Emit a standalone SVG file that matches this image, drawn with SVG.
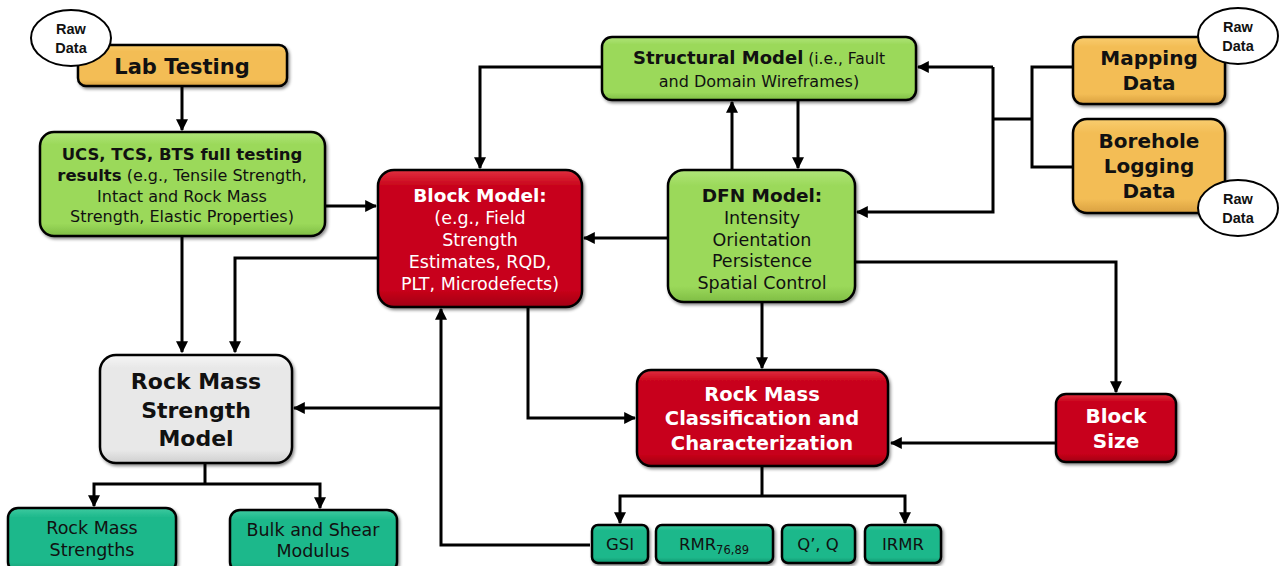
<svg xmlns="http://www.w3.org/2000/svg" width="1279" height="566" viewBox="0 0 1279 566">
<defs>
<linearGradient id="gOr" x1="0" y1="0" x2="0" y2="1"><stop offset="0" stop-color="#f9cd6f"/><stop offset="0.15" stop-color="#f3bd55"/><stop offset="0.85" stop-color="#f3bd55"/><stop offset="1" stop-color="#d9a040"/></linearGradient>
<linearGradient id="gGr" x1="0" y1="0" x2="0" y2="1"><stop offset="0" stop-color="#b0e57a"/><stop offset="0.12" stop-color="#9bd95a"/><stop offset="0.88" stop-color="#9bd95a"/><stop offset="1" stop-color="#7fbd45"/></linearGradient>
<linearGradient id="gRd" x1="0" y1="0" x2="0" y2="1"><stop offset="0" stop-color="#e0303f"/><stop offset="0.12" stop-color="#c8021a"/><stop offset="0.88" stop-color="#c8021a"/><stop offset="1" stop-color="#a00012"/></linearGradient>
<linearGradient id="gGy" x1="0" y1="0" x2="0" y2="1"><stop offset="0" stop-color="#f6f6f6"/><stop offset="0.12" stop-color="#e8e8e8"/><stop offset="0.88" stop-color="#e8e8e8"/><stop offset="1" stop-color="#cfcfcf"/></linearGradient>
<linearGradient id="gTl" x1="0" y1="0" x2="0" y2="1"><stop offset="0" stop-color="#3fcaa0"/><stop offset="0.15" stop-color="#1db88b"/><stop offset="0.85" stop-color="#1db88b"/><stop offset="1" stop-color="#13966f"/></linearGradient>
<filter id="sh" x="-10%" y="-10%" width="120%" height="130%"><feDropShadow dx="1.5" dy="2" stdDeviation="1.5" flood-color="#000" flood-opacity="0.45"/></filter>
<marker id="ah" viewBox="0 0 10 10" refX="9" refY="5" markerWidth="4" markerHeight="4" orient="auto" markerUnits="strokeWidth"><path d="M0,0 L10,5 L0,10 z" fill="#000"/></marker>
<style>
.box{stroke:#000;stroke-width:2.5;filter:url(#sh)}
.or{fill:url(#gOr)}.gr{fill:url(#gGr)}.rd{fill:url(#gRd)}.gy{fill:url(#gGy)}.tl{fill:url(#gTl)}
.ell{fill:#fff;stroke:#000;stroke-width:2}
text{font-family:"DejaVu Sans","Open Sans",sans-serif;text-anchor:middle;fill:#111}
.raw{font-family:"Liberation Sans",Arial,sans-serif;font-weight:bold;font-size:14.5px}
.b{font-weight:bold}
.w{fill:#fff}
.c{fill:none;stroke:#000;stroke-width:3}
.a{marker-end:url(#ah)}
</style>
</defs>

<g id="connectors">
<path class="c a" d="M182,86 V130"/>
<path class="c a" d="M325,206 H376"/>
<path class="c a" d="M182,236 V352"/>
<path class="c a" d="M378,258 H235 V352"/>
<path class="c a" d="M602,67 H480 V168"/>
<path class="c a" d="M732,170 V102"/>
<path class="c a" d="M798,100 V168"/>
<path class="c a" d="M668,238 H584"/>
<path class="c" d="M1073,67 H1032 V167 H1073"/>
<path class="c" d="M1032,119 H993"/>
<path class="c a" d="M993,67 H918"/>
<path class="c a" d="M993,67 V212 H857"/>
<path class="c a" d="M855,262 H1116 V392"/>
<path class="c a" d="M1056,443 H891"/>
<path class="c a" d="M762,302 V368"/>
<path class="c a" d="M528,307 V418 H635"/>
<path class="c a" d="M590,545 H441 V309"/>
<path class="c a" d="M441,408 H294"/>
<path class="c" d="M205,463 V484"/>
<path class="c a" d="M205,484 H94 V506"/>
<path class="c a" d="M205,484 H320 V508"/>
<path class="c" d="M762,466 V496"/>
<path class="c a" d="M762,496 H620 V523"/>
<path class="c a" d="M762,496 H905 V523"/>
</g>

<g id="lab-testing">
<rect class="box or" x="78" y="45" width="209" height="41" rx="8"/>
<text class="b" x="182" y="74" font-size="21">Lab Testing</text>
</g>
<g id="raw-data-1">
<ellipse class="ell" cx="71" cy="38" rx="40" ry="28"/>
<text class="raw" x="71" y="34">Raw</text>
<text class="raw" x="71" y="53">Data</text>
</g>

<g id="ucs-results">
<rect class="box gr" x="40" y="132" width="285" height="104" rx="14"/>
<text class="b" x="182" y="160" font-size="16.5">UCS, TCS, BTS full testing</text>
<text x="182" y="181" font-size="16"><tspan class="b" font-size="16.5">results</tspan> (e.g., Tensile Strength,</text>
<text x="182" y="202" font-size="16">Intact and Rock Mass</text>
<text x="182" y="222" font-size="16">Strength, Elastic Properties)</text>
</g>

<g id="block-model">
<rect class="box rd" x="378" y="170" width="204" height="137" rx="16"/>
<text class="b w" x="480" y="202" font-size="18.5">Block Model:</text>
<text class="w" x="480" y="224" font-size="17.5">(e.g., Field</text>
<text class="w" x="480" y="246" font-size="17.5">Strength</text>
<text class="w" x="480" y="268" font-size="17.5">Estimates, RQD,</text>
<text class="w" x="480" y="290" font-size="17.5">PLT, Microdefects)</text>
</g>

<g id="structural-model">
<rect class="box gr" x="602" y="37" width="314" height="63" rx="10"/>
<text x="759" y="64" font-size="15.5"><tspan class="b" font-size="18">Structural Model</tspan> (i.e., Fault</text>
<text x="759" y="87" font-size="16">and Domain Wireframes)</text>
</g>

<g id="dfn-model">
<rect class="box gr" x="668" y="170" width="187" height="132" rx="16"/>
<text class="b" x="762" y="202" font-size="18.5">DFN Model:</text>
<text x="762" y="224" font-size="17.5">Intensity</text>
<text x="762" y="246" font-size="17.5">Orientation</text>
<text x="762" y="267" font-size="17.5">Persistence</text>
<text x="762" y="289" font-size="17.5">Spatial Control</text>
</g>

<g id="mapping-data">
<rect class="box or" x="1073" y="37" width="152" height="67" rx="10"/>
<text class="b" x="1149" y="65" font-size="20">Mapping</text>
<text class="b" x="1149" y="90" font-size="20">Data</text>
</g>
<g id="raw-data-2">
<ellipse class="ell" cx="1238" cy="36" rx="40" ry="28"/>
<text class="raw" x="1238" y="32">Raw</text>
<text class="raw" x="1238" y="51">Data</text>
</g>

<g id="borehole-logging">
<rect class="box or" x="1073" y="119" width="152" height="94" rx="14"/>
<text class="b" x="1149" y="148" font-size="20">Borehole</text>
<text class="b" x="1149" y="173" font-size="20">Logging</text>
<text class="b" x="1149" y="198" font-size="20">Data</text>
</g>
<g id="raw-data-3">
<ellipse class="ell" cx="1238" cy="208" rx="40" ry="28"/>
<text class="raw" x="1238" y="204">Raw</text>
<text class="raw" x="1238" y="223">Data</text>
</g>

<g id="rock-mass-strength-model">
<rect class="box gy" x="100" y="355" width="192" height="108" rx="16"/>
<text class="b" x="196" y="389" font-size="22">Rock Mass</text>
<text class="b" x="196" y="418" font-size="22">Strength</text>
<text class="b" x="196" y="446" font-size="22">Model</text>
</g>

<g id="rock-mass-classification">
<rect class="box rd" x="637" y="370" width="251" height="96" rx="14"/>
<text class="b w" x="762" y="401" font-size="19.5">Rock Mass</text>
<text class="b w" x="762" y="425" font-size="19.5">Classification and</text>
<text class="b w" x="762" y="450" font-size="19.5">Characterization</text>
</g>

<g id="block-size">
<rect class="box rd" x="1056" y="394" width="120" height="68" rx="10"/>
<text class="b w" x="1116" y="423" font-size="20">Block</text>
<text class="b w" x="1116" y="448" font-size="20">Size</text>
</g>

<g id="rock-mass-strengths">
<rect class="box tl" x="8" y="508" width="168" height="64" rx="10"/>
<text x="92" y="534" font-size="17.5">Rock Mass</text>
<text x="92" y="556" font-size="17.5">Strengths</text>
</g>
<g id="bulk-shear-modulus">
<rect class="box tl" x="230" y="510" width="167" height="62" rx="10"/>
<text x="313" y="536" font-size="17.5">Bulk and Shear</text>
<text x="313" y="557" font-size="17.5">Modulus</text>
</g>

<g id="gsi">
<rect class="box tl" x="592" y="525" width="56" height="38" rx="6"/>
<text x="620" y="550" font-size="16.5">GSI</text>
</g>
<g id="rmr">
<rect class="box tl" x="656" y="525" width="117" height="38" rx="6"/>
<text x="714" y="550" font-size="16.5">RMR<tspan font-size="11.5" dy="4">76,89</tspan></text>
</g>
<g id="q">
<rect class="box tl" x="782" y="525" width="73" height="38" rx="6"/>
<text x="818" y="550" font-size="16.5">Q’, Q</text>
</g>
<g id="irmr">
<rect class="box tl" x="865" y="525" width="76" height="38" rx="6"/>
<text x="903" y="550" font-size="16.5">IRMR</text>
</g>
</svg>
